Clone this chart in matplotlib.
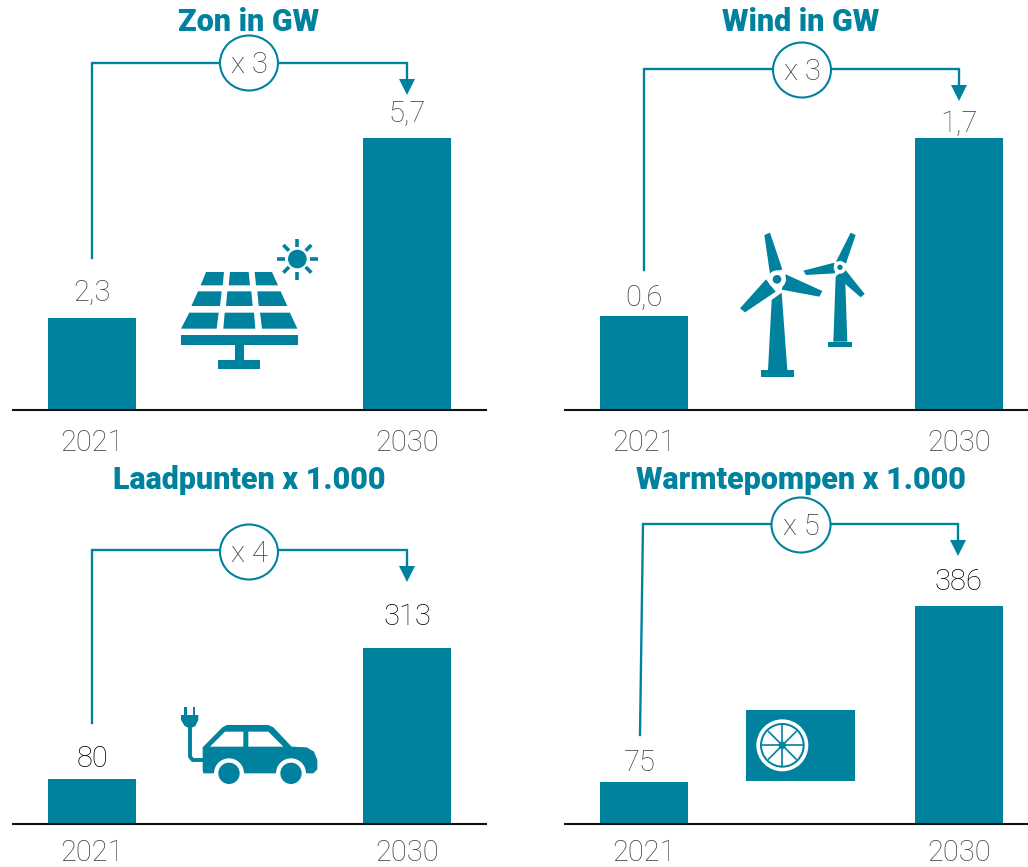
import matplotlib
matplotlib.use("Agg")
import matplotlib.pyplot as plt
from matplotlib.patches import Polygon, Circle, Ellipse

W, H = 1028, 867
TEAL = '#00829f'
GREY = '#3f3f41'
BLACK = '#000000'
NUM_SIZE = 21

plt.rcParams['font.family'] = ['Roboto', 'DejaVu Sans']

years = ['2021', '2030']

# bar heights as drawn in the picture, the Zon 2021 bar is drawn lower than its label says
zon_bars = [1.93, 5.7]
wind_bars = [0.59, 1.7]
laad_bars = [80, 313]
warmte_bars = [75, 386]

zon_labels = ['2,3', '5,7']
wind_labels = ['0,6', '1,7']
laad_labels = ['80', '313']
warmte_labels = ['75', '386']

titles = ['Zon in GW', 'Wind in GW', 'Laadpunten x 1.000', 'Warmtepompen x 1.000']
factors = ['x 3', 'x 3', 'x 4', 'x 5']

fig = plt.figure(figsize=(W / 100, H / 100), dpi=100)


def add_panel(x0, x1, base, top_px, bars, pad):
    # axes runs from the baseline up to the top of the tallest bar
    ax = fig.add_axes([x0 / W, 1 - base / H, (x1 - x0) / W, (base - top_px) / H])
    ax.bar([0, 1], bars, width=88 / 315, color=TEAL)
    ax.set_xlim(-(79 / 315), 1 + (x1 - x0 - 394) / 315)
    ax.set_ylim(0, max(bars))
    ax.patch.set_alpha(0)
    for s in ['top', 'left', 'right']:
        ax.spines[s].set_visible(False)
    ax.spines['bottom'].set_linewidth(1.5)
    ax.spines['bottom'].set_color('#111111')
    ax.set_yticks([])
    ax.set_xticks([0, 1], years)
    ax.tick_params(axis='x', length=0, pad=pad, labelsize=NUM_SIZE, labelcolor=GREY)
    for t in ax.get_xticklabels():
        t.set_fontweight('light')
    return ax


panels = [
    add_panel(13, 486, 410, 138, zon_bars, 14),
    add_panel(565, 1028, 410, 138, wind_bars, 14),
    add_panel(13, 486, 824, 648, laad_bars, 11),
    add_panel(565, 1028, 824, 606, warmte_bars, 11),
]

# overlay in pixel coordinates for the titles, connectors and icons
ov = fig.add_axes([0, 0, 1, 1], zorder=5)
ov.set_xlim(0, W)
ov.set_ylim(H, 0)
ov.axis('off')


def title(x, y, s):
    ov.text(x, y, s, color=TEAL, fontsize=22, fontweight='heavy', ha='center', va='center')


def num(x, y, s, col=GREY):
    ov.text(x, y, s, color=col, fontsize=NUM_SIZE, fontweight='light', ha='center', va='center')


title(249, 22, titles[0])
title(801, 22, titles[1])
title(249, 480, titles[2])
title(801, 480, titles[3])

# value labels
num(92, 293, zon_labels[0])
num(407, 114, zon_labels[1])
num(644, 298, wind_labels[0])
num(959, 124, wind_labels[1])
num(92, 759, laad_labels[0], BLACK)
num(407, 617, laad_labels[1], BLACK)
num(640, 763, warmte_labels[0])
num(958, 582, warmte_labels[1], BLACK)


def connector(x_start, y_start, x_corner, y_line, x_end, tip, cx, cy, w, h, s):
    ov.plot([x_start, x_corner, x_end, x_end], [y_start, y_line, y_line, tip - 14],
            color=TEAL, lw=1.7, solid_joinstyle='miter')
    ov.add_patch(Polygon([(x_end - 8, tip - 16), (x_end + 8, tip - 16), (x_end, tip)], color=TEAL, lw=0))
    ov.add_patch(Ellipse((cx, cy), w, h, fc='white', ec=TEAL, lw=1.5, zorder=3))
    ov.text(cx, cy + 2, s, color=GREY, fontsize=NUM_SIZE, fontweight='light', ha='center', va='center', zorder=4)


connector(92, 258, 92, 63, 407, 95, 249, 63, 58, 55, factors[0])
connector(644, 270, 644, 69, 959, 101, 802, 70, 58, 55, factors[1])
connector(92, 723, 92, 550, 407, 582, 249, 552, 58, 55, factors[2])
connector(640, 735, 643, 524, 958, 556, 801, 525, 59, 55, factors[3])


def zoomed(x0, y0):
    # icon shapes were measured on 3x crops
    return lambda pts: [(x0 + a / 3, y0 + b / 3) for a, b in pts]


def poly(pts, col=TEAL):
    ov.add_patch(Polygon(pts, closed=True, fc=col, ec='none'))


def circ(p, r, col=TEAL):
    ov.add_patch(Circle(p, r, fc=col, ec='none'))


# solar panel
z = zoomed(150, 220)
cells = [
    [(168, 156), (222, 156), (218, 196), (152, 196)], [(240, 156), (296, 156), (300, 196), (236, 196)],
    [(314, 156), (366, 156), (384, 196), (318, 196)], [(144, 214), (215, 214), (210, 258), (124, 258)],
    [(232, 214), (304, 214), (308, 258), (228, 258)], [(322, 214), (392, 214), (412, 258), (326, 258)],
    [(118, 278), (206, 278), (200, 326), (93, 326)], [(224, 278), (312, 278), (316, 326), (220, 326)],
    [(330, 278), (420, 278), (442, 326), (336, 326)],
    [(92, 346), (444, 346), (444, 376), (92, 376)], [(254, 376), (282, 376), (282, 420), (254, 420)],
    [(205, 420), (331, 420), (331, 448), (205, 448)],
]
for c in cells:
    poly(z(c))
circ(z([(442, 117)])[0], 28 / 3)
rays = [[(441, 57), (441, 80)], [(441, 156), (441, 180)], [(381, 117), (404, 117)], [(480, 117), (504, 117)],
        [(400, 75), (417, 92)], [(484, 75), (467, 92)], [(400, 158), (417, 141)], [(484, 158), (467, 141)]]
for r in rays:
    p = z(r)
    ov.plot([p[0][0], p[1][0]], [p[0][1], p[1][1]], color=TEAL, lw=2.6, solid_capstyle='butt')

# wind turbines
z = zoomed(720, 220)
turbine = [
    [(133, 45), (150, 38), (187, 148), (150, 162)], [(197, 163), (307, 213), (298, 230), (185, 209)],
    [(138, 178), (167, 215), (75, 277), (60, 265)], [(155, 240), (185, 218), (202, 450), (144, 450)],
    [(124, 450), (222, 450), (222, 470), (124, 470)],
    [(392, 38), (407, 45), (378, 130), (348, 125)], [(343, 128), (345, 160), (258, 165), (250, 152)],
    [(375, 148), (434, 222), (422, 232), (348, 168)], [(347, 170), (375, 160), (382, 365), (340, 365)],
    [(325, 365), (396, 365), (396, 380), (325, 380)],
]
for c in turbine:
    poly(z(c))
circ(z([(171, 178)])[0], 27 / 3, 'white')
circ(z([(171, 178)])[0], 13 / 3)
circ(z([(360, 142)])[0], 19 / 3, 'white')
circ(z([(360, 142)])[0], 8 / 3)

# car with plug
z = zoomed(160, 690)
poly(z([(128, 172), (186, 113), (200, 105), (325, 105), (340, 112), (395, 170), (440, 172), (462, 185),
        (472, 210), (472, 238), (460, 250), (130, 250), (128, 240)]))
poly(z([(150, 170), (195, 125), (250, 125), (250, 170)]), 'white')
poly(z([(265, 125), (325, 125), (370, 170), (265, 170)]), 'white')
for cx in [207, 393]:
    circ(z([(cx, 250)])[0], 45 / 3, 'white')
    circ(z([(cx, 250)])[0], 32 / 3)
poly(z([(73, 50), (81, 50), (81, 75), (73, 75)]))
poly(z([(98, 50), (106, 50), (106, 75), (98, 75)]))
poly(z([(63, 75), (115, 75), (115, 90), (106, 108), (90, 116), (74, 108), (63, 90)]))
p = z([(90, 112), (90, 200), (98, 210), (128, 210)])
ov.plot([a for a, b in p], [b for a, b in p], color=TEAL, lw=2.8, solid_joinstyle='round')

# heat pump
z = zoomed(730, 695)
poly(z([(48, 45), (375, 45), (375, 258), (48, 258)]))
c0 = z([(157, 151)])[0]
circ(c0, 78 / 3, 'white')
circ(c0, 67 / 3)
circ(c0, 61 / 3, 'white')
spokes = [[(157, 90), (157, 212)], [(96, 151), (218, 151)], [(114, 108), (200, 194)], [(200, 108), (114, 194)]]
for s in spokes:
    p = z(s)
    ov.plot([p[0][0], p[1][0]], [p[0][1], p[1][1]], color=TEAL, lw=1.2, solid_capstyle='butt')
circ(c0, 11 / 3)
circ(c0, 6 / 3, 'white')

fig.savefig('out.png', dpi=100)
